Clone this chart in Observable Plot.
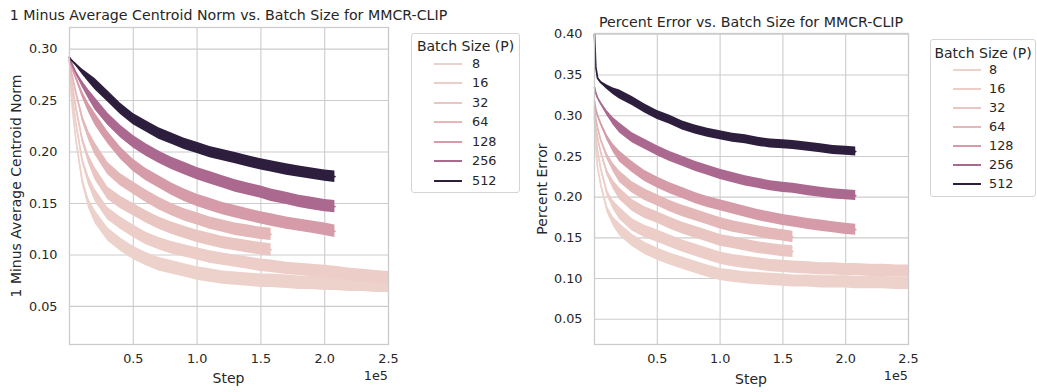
<!DOCTYPE html>
<html><head><meta charset="utf-8">
<script src="https://cdn.jsdelivr.net/npm/d3@7"></script>
<script src="https://cdn.jsdelivr.net/npm/@observablehq/plot@0.6"></script>
<style>
body{margin:0;background:#fff;font-family:"DejaVu Sans",sans-serif;color:#262626}
#root{position:relative;width:1037px;height:392px;overflow:hidden;background:#fff}
.abs{position:absolute;white-space:nowrap;line-height:1}
.c{transform:translate(-50%,-50%)}
.rot{transform:translate(-50%,-50%) rotate(-90deg)}
.title{font-size:14.2px}
.lab{font-size:14px}
.small{font-size:12.8px}
.legend{position:absolute;border:1px solid #d4d4d4;border-radius:3px;background:rgba(255,255,255,0.8);box-sizing:border-box}
svg.plot{position:absolute;top:0}
</style></head><body><div id="root"></div>
<script>
const batchSizes = [8, 16, 32, 64, 128, 256, 512];
const steps = [0, 1000, 2500, 5000, 10000, 15000, 20000, 30000, 40000, 50000, 60000, 70000, 80000, 90000, 100000, 110000, 120000, 130000, 140000, 150000, 158000, 170000, 180000, 190000, 200000, 208000, 220000, 230000, 240000, 250000];
const xTicks = [50000, 100000, 150000, 200000, 250000];
const normTicks = [0.05, 0.10, 0.15, 0.20, 0.25, 0.30];
const errTicks = [0.05, 0.10, 0.15, 0.20, 0.25, 0.30, 0.35, 0.40];

// 1 minus average centroid norm (left)
const norm8 = [0.290, 0.262, 0.240, 0.212, 0.172, 0.150, 0.137, 0.120, 0.110, 0.102, 0.096, 0.091, 0.088, 0.085, 0.082, 0.080, 0.078, 0.077, 0.076, 0.075, 0.075, 0.074, 0.073, 0.073, 0.072, 0.072, 0.071, 0.071, 0.070, 0.070];
const norm16 = [0.290, 0.270, 0.252, 0.228, 0.192, 0.172, 0.158, 0.140, 0.131, 0.123, 0.116, 0.111, 0.107, 0.104, 0.101, 0.098, 0.096, 0.094, 0.092, 0.090, 0.089, 0.087, 0.086, 0.085, 0.084, 0.083, 0.081, 0.080, 0.079, 0.078];
const norm32 = [0.290, 0.276, 0.263, 0.243, 0.212, 0.193, 0.179, 0.160, 0.151, 0.144, 0.137, 0.131, 0.126, 0.122, 0.118, 0.115, 0.112, 0.110, 0.108, 0.106, 0.105];
const norm64 = [0.290, 0.281, 0.272, 0.258, 0.233, 0.216, 0.203, 0.184, 0.173, 0.165, 0.157, 0.150, 0.144, 0.139, 0.135, 0.131, 0.128, 0.125, 0.123, 0.121, 0.120];
const norm128 = [0.291, 0.286, 0.280, 0.272, 0.256, 0.243, 0.232, 0.214, 0.199, 0.187, 0.178, 0.171, 0.164, 0.158, 0.153, 0.149, 0.145, 0.142, 0.139, 0.136, 0.134, 0.131, 0.129, 0.127, 0.125, 0.123];
const norm256 = [0.292, 0.288, 0.284, 0.277, 0.266, 0.256, 0.247, 0.232, 0.220, 0.210, 0.202, 0.195, 0.189, 0.184, 0.179, 0.175, 0.171, 0.167, 0.164, 0.161, 0.158, 0.155, 0.152, 0.150, 0.148, 0.147];
const norm512 = [0.292, 0.290, 0.288, 0.285, 0.278, 0.272, 0.266, 0.254, 0.242, 0.232, 0.225, 0.218, 0.213, 0.208, 0.204, 0.200, 0.197, 0.194, 0.191, 0.188, 0.186, 0.183, 0.181, 0.179, 0.177, 0.176];
const normSpread = [0.0065, 0.006, 0.006, 0.006, 0.006, 0.006, 0.0055];

// percent error (right)
const err8 = [0.300, 0.262, 0.236, 0.215, 0.185, 0.170, 0.160, 0.147, 0.137, 0.130, 0.124, 0.119, 0.114, 0.109, 0.105, 0.103, 0.101, 0.100, 0.099, 0.098, 0.097, 0.097, 0.096, 0.096, 0.096, 0.095, 0.095, 0.095, 0.094, 0.094];
const err16 = [0.305, 0.277, 0.256, 0.235, 0.205, 0.190, 0.180, 0.166, 0.158, 0.152, 0.146, 0.140, 0.135, 0.130, 0.125, 0.122, 0.120, 0.118, 0.116, 0.115, 0.114, 0.113, 0.112, 0.112, 0.111, 0.111, 0.110, 0.110, 0.109, 0.109];
const err32 = [0.308, 0.286, 0.272, 0.255, 0.230, 0.215, 0.204, 0.190, 0.181, 0.175, 0.168, 0.162, 0.157, 0.152, 0.147, 0.144, 0.141, 0.138, 0.136, 0.134, 0.133];
const err64 = [0.312, 0.296, 0.285, 0.270, 0.250, 0.236, 0.225, 0.212, 0.203, 0.196, 0.189, 0.183, 0.178, 0.173, 0.168, 0.164, 0.161, 0.158, 0.155, 0.153, 0.151];
const err128 = [0.318, 0.308, 0.300, 0.290, 0.273, 0.260, 0.250, 0.237, 0.226, 0.218, 0.211, 0.205, 0.199, 0.194, 0.190, 0.186, 0.182, 0.178, 0.175, 0.172, 0.170, 0.167, 0.165, 0.163, 0.161, 0.160];
const err256 = [0.335, 0.328, 0.322, 0.315, 0.303, 0.293, 0.285, 0.273, 0.265, 0.257, 0.250, 0.244, 0.238, 0.233, 0.228, 0.224, 0.220, 0.217, 0.214, 0.212, 0.211, 0.208, 0.206, 0.204, 0.203, 0.202];
const err512 = [0.400, 0.360, 0.346, 0.341, 0.335, 0.330, 0.326, 0.318, 0.309, 0.301, 0.295, 0.288, 0.283, 0.279, 0.276, 0.273, 0.271, 0.268, 0.266, 0.265, 0.264, 0.262, 0.260, 0.258, 0.257, 0.256];
const errSpread = [0.0075, 0.0075, 0.0072, 0.007, 0.0068, 0.0062, 0.0055];

const normSeries = [norm8, norm16, norm32, norm64, norm128, norm256, norm512];
const errSeries = [err8, err16, err32, err64, err128, err256, err512];

// seaborn default "ch:" cubehelix colormap
function cubehelix(x) {
  const gamma = 1, start = 0, rot = 0.4, hue = 0.8;
  const xg = Math.pow(x, gamma);
  const a = hue * xg * (1 - xg) / 2;
  const phi = 2 * Math.PI * (start / 3 + rot * x);
  const c = Math.cos(phi), s = Math.sin(phi);
  const cl = v => Math.round(255 * Math.max(0, Math.min(1, v)));
  const r = xg + a * (-0.14861 * c + 1.78277 * s);
  const g = xg + a * (-0.29227 * c - 0.90649 * s);
  const b = xg + a * (1.97294 * c);
  return `rgb(${cl(r)},${cl(g)},${cl(b)})`;
}
const interp = t => cubehelix(0.85 + (0.15 - 0.85) * t);
const colorScale = {type: "linear", domain: [8, 512], interpolate: interp};

function tableFor(series, spreads) {
  return batchSizes.map((b, i) => series[i].map((v, j) => ({
    batch: b, step: steps[j], v,
    lo: v - spreads[i] * Math.min(1, steps[j] / 20000),
    hi: v + spreads[i] * Math.min(1, steps[j] / 20000)
  })));
}

function chart(series, spreads, yDomain, yTicks, opts) {
  const tables = tableFor(series, spreads);
  return Plot.plot({
    width: 400, height: 392,
    marginLeft: opts.ml, marginRight: 12, marginTop: opts.mt, marginBottom: opts.mb,
    style: {fontFamily: "DejaVu Sans", fontSize: "12.8px", color: "#262626", background: "transparent", overflow: "visible"},
    x: {domain: [0, 250000]},
    y: {domain: yDomain},
    color: colorScale,
    marks: [
      Plot.gridX(xTicks, {stroke: "#cccccc", strokeOpacity: 1, strokeWidth: 1.1}),
      Plot.gridY(yTicks, {stroke: "#cccccc", strokeOpacity: 1, strokeWidth: 1.1}),
      ...tables.flatMap(t => [
        Plot.areaY(t, {x: "step", y1: "lo", y2: "hi", fill: "batch", fillOpacity: 1}),
        Plot.lineY(t, {x: "step", y: "v", stroke: "batch", strokeWidth: 1.75})
      ]),
      Plot.frame({stroke: "#cccccc", strokeWidth: 1.3}),
      Plot.axisX(xTicks, {tickSize: 0, tickPadding: 9, tickFormat: d => (d / 1e5).toFixed(1), label: null, fontSize: 12.8}),
      Plot.axisY(yTicks, {tickSize: 0, tickPadding: 12, tickFormat: d3.format(".2f"), label: null, fontSize: 12.8})
    ]
  });
}

const root = document.getElementById("root");
function addText(txt, cls, x, y) {
  const d = document.createElement("div");
  d.className = "abs " + cls;
  d.textContent = txt;
  d.style.left = x + "px"; d.style.top = y + "px";
  root.appendChild(d);
  return d;
}

const left = chart(normSeries, normSpread, [0.013, 0.321], normTicks, {ml: 69, mt: 27, mb: 48});
left.classList.add("plot"); left.style.left = "0px";
root.appendChild(left);
const right = chart(errSeries, errSpread, [0.019, 0.401], errTicks, {ml: 74, mt: 33, mb: 48});
right.classList.add("plot"); right.style.left = "520px";
root.appendChild(right);

addText("1 Minus Average Centroid Norm vs. Batch Size for MMCR-CLIP", "title c", 228.5, 15);
addText("Percent Error vs. Batch Size for MMCR-CLIP", "title c", 751, 22);
addText("Step", "lab c", 228.5, 378);
addText("Step", "lab c", 751, 379);
addText("1 Minus Average Centroid Norm", "lab rot", 16, 185.5);
addText("Percent Error", "lab rot", 542, 188.5);
const e1 = addText("1e5", "small", 0, 370); e1.style.left = ""; e1.style.right = (1037 - 388) + "px";
const e2 = addText("1e5", "small", 0, 370); e2.style.left = ""; e2.style.right = (1037 - 908) + "px";

function legend(x, y, w, h, titleY, rowY0, rowGap, lineX0, lineX1, labelX) {
  const box = document.createElement("div");
  box.className = "legend";
  Object.assign(box.style, {left: x + "px", top: y + "px", width: w + "px", height: h + "px"});
  root.appendChild(box);
  addText("Batch Size (P)", "lab c", x + w / 2, titleY);
  const color = d3.scaleLinear().domain([8, 512]).range([0, 1]);
  batchSizes.forEach((b, i) => {
    const cy = rowY0 + i * rowGap;
    const ln = document.createElement("div");
    ln.className = "abs";
    Object.assign(ln.style, {left: lineX0 + "px", top: (Math.round(cy) - 1) + "px", width: (lineX1 - lineX0) + "px", height: "2px", background: interp(color(b))});
    root.appendChild(ln);
    const t = addText(String(b), "small", labelX, cy);
    t.style.transform = "translateY(-50%)";
  });
}
legend(411, 33, 109, 160, 45.5, 63.5, 19.5, 434, 462, 472);
legend(930, 39, 106, 158, 52.5, 70, 19, 953, 981, 989);
</script></body></html>
